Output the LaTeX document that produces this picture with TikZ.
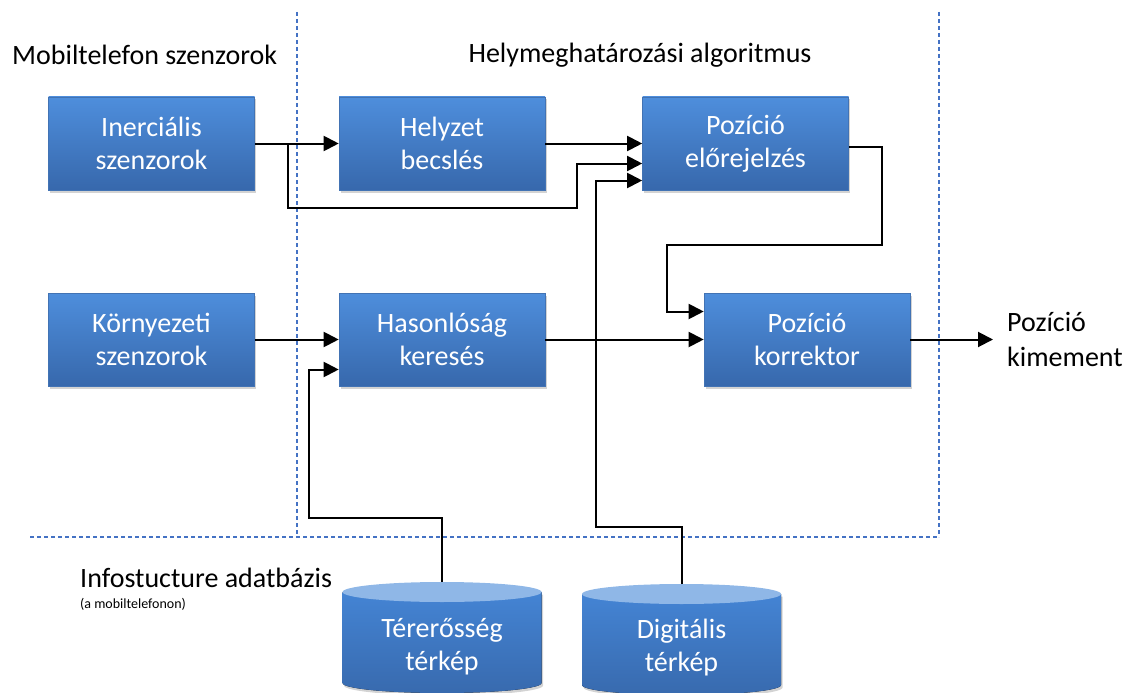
\documentclass[tikz,border=0pt]{standalone}
\usepackage{fontspec}
\setmainfont{Carlito}
\usetikzlibrary{arrows.meta,shadows}

\definecolor{boxtop}{RGB}{78,142,220}
\definecolor{boxbot}{RGB}{55,104,172}
\definecolor{boxedge}{RGB}{66,115,180}
\definecolor{dbup}{RGB}{68,132,212}
\definecolor{dbdown}{RGB}{56,106,174}
\definecolor{dbtop}{RGB}{143,183,231}
\definecolor{sepblue}{RGB}{68,114,196}

\tikzset{
  block/.style={rectangle, minimum width=206pt, minimum height=93pt,
    top color=boxtop, bottom color=boxbot, draw=boxedge, line width=0.6pt,
    text=white, align=center, font=\fontsize{28}{33}\selectfont,
    drop shadow={shadow xshift=1.5pt, shadow yshift=-2.5pt, opacity=0.35}},
  dbbody/.style={top color=dbup, bottom color=dbdown,
    drop shadow={shadow xshift=1.5pt, shadow yshift=-2.5pt, opacity=0.35}},
  dblabel/.style={inner sep=0pt, text=white, align=center, font=\fontsize{28}{33}\selectfont},
  title/.style={inner sep=0pt, font=\fontsize{28}{35}\selectfont},
  sep/.style={draw=sepblue, dash pattern=on 4pt off 3pt, line width=1.2pt},
  link/.style={line width=2pt, -{Triangle[length=15pt,width=15pt]}},
}

\begin{document}
\begin{tikzpicture}[x=1pt,y=-1pt]
  \useasboundingbox (0,0) rectangle (1128,693);

  % separators
  \draw[sep] (297,12) -- (297,537);
  \draw[sep] (939,12) -- (939,537);
  \draw[sep] (30,537) -- (939,537);

  % headings
  \node[title, anchor=west] (mobil) at (12,55) {Mobiltelefon szenzorok};
  \node[title] (algo) at (640,55) {Helymeghatározási algoritmus};
  \node[title, anchor=west] (info) at (80,578) {Infostucture adatbázis};
  \node[inner sep=0pt, anchor=west, font=\fontsize{14}{16}\selectfont] (infonote) at (80,604) {(a mobiltelefonon)};

  % blocks
  \node[block] (iner) at (151.5,143.5) {Inerciális\\szenzorok};
  \node[block] (helyzet) at (442,143.5) {Helyzet\\becslés};
  \node[block] (pred) at (745.5,143.5) {Pozíció\\előrejelzés};
  \node[block] (korn) at (151.5,339.5) {Környezeti\\szenzorok};
  \node[block] (hason) at (442,339.5) {Hasonlóság\\keresés};
  \node[block] (korr) at (807,339.5) {Pozíció\\korrektor};

  % databases
  \foreach \cx/\ct/\cname in {442/582/terer, 681.5/584/digit} {
    \fill[dbbody] (\cx-99.5,\ct+10) -- (\cx-99.5,\ct+101)
      arc[start angle=180, end angle=360, x radius=99.5pt, y radius=10pt]
      -- (\cx+99.5,\ct+10) -- cycle;
    \fill[dbtop] (\cx,\ct+10) ellipse[x radius=99.5pt, y radius=10pt];
    \coordinate (\cname) at (\cx,\ct);
  }
  \node[dblabel] (tererlbl) at (442,647) {Térerősség\\térkép};
  \node[dblabel] (digitlbl) at (681.5,648) {Digitális\\térkép};

  \node[title, anchor=west, align=left, inner xsep=14pt] (out) at (993,339.5) {Pozíció\\kimement};

  % connectors
  \coordinate (split) at (288,143.5);
  \draw[link] (iner.east) -- (helyzet.west);
  \draw[link] (split) |- (577,208) |- ([yshift=-20pt]pred.west);
  \draw[link] (helyzet.east) -- (pred.west);
  \draw[link] (digit) |- (596,527) |- ([yshift=-37pt]pred.west);
  \draw[link] ([yshift=-3pt]pred.east) -| (882,245) -| (667,280) |- ([yshift=28pt]korr.west);
  \draw[link] (korn.east) -- (hason.west);
  \draw[link] (hason.east) -- (korr.west);
  \draw[link] (terer) |- (309,518) |- ([yshift=-30pt]hason.west);
  \draw[link] (korr.east) -- (out.west);
\end{tikzpicture}
\end{document}
